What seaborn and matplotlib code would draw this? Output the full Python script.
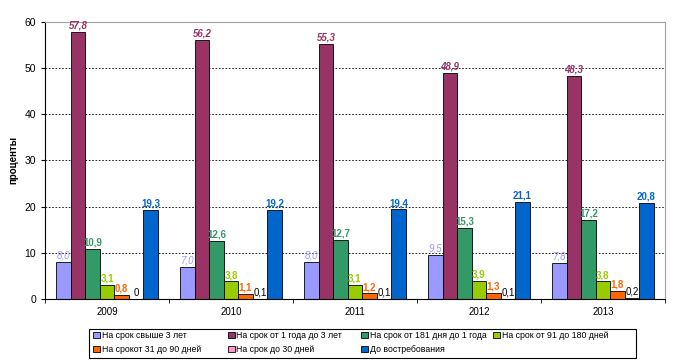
import pandas as pd
import matplotlib
matplotlib.use("Agg")
import matplotlib.pyplot as plt
from matplotlib.patches import Rectangle
import seaborn as sns

years = ['2009', '2010', '2011', '2012', '2013']
series_names = ['На срок свыше 3 лет', 'На срок от 1 года до 3 лет',
                'На срок от 181 дня до 1 года', 'На срок от 91 до 180 дней',
                'На срокот 31 до 90 дней', 'На срок до 30 дней',
                'До востребования']
over_3y = [8.0, 7.0, 8.0, 9.5, 7.8]
y1_to_3 = [57.8, 56.2, 55.3, 48.9, 48.3]
d181_to_1y = [10.9, 12.6, 12.7, 15.3, 17.2]
d91_to_180 = [3.1, 3.8, 3.1, 3.9, 3.8]
d31_to_90 = [0.8, 1.1, 1.2, 1.3, 1.8]
to_30 = [0, 0.1, 0.1, 0.1, 0.2]
on_demand = [19.3, 19.2, 19.4, 21.1, 20.8]

bar_colors = ['#9999FF', '#993366', '#339966', '#99CC00', '#FF6600',
              '#FF99CC', '#0066CC']
label_colors = ['#9999FF', '#993366', '#339966', '#99CC00', '#FF6600',
                '#000000', '#0066CC']

all_values = [over_3y, y1_to_3, d181_to_1y, d91_to_180, d31_to_90, to_30, on_demand]
rows = []
for name, vals in zip(series_names, all_values):
    for yr, v in zip(years, vals):
        rows.append({'year': yr, 'series': name, 'value': v})
df = pd.DataFrame(rows)

plt.rcParams['font.family'] = ['Liberation Sans', 'DejaVu Sans']
fig = plt.figure(figsize=(6.76, 3.64), dpi=100)
ax = fig.add_axes([0.0666, 0.1786, 0.917, 0.761])

sns.barplot(data=df, x='year', y='value', hue='series', hue_order=series_names,
            palette=bar_colors, saturation=1, width=0.82, edgecolor='black',
            linewidth=0.6, ax=ax, legend=True)

for i, cont in enumerate(ax.containers):
    vals = all_values[i]
    labels = ['0' if v == 0 else f"{v:.1f}".replace('.', ',') for v in vals]
    weight = 'normal' if i in (0, 5) else 'bold'
    ax.bar_label(cont, labels=labels, padding=1, fontsize=7,
                 color=label_colors[i], fontweight=weight,
                 fontstyle='italic' if i in (0, 1) else 'normal')

ax.set_ylim(0, 60)
ax.set_xlim(-0.5, 4.5)
ax.set_yticks(range(0, 61, 10))
ax.set_ylabel('проценты', fontsize=7, fontweight='bold')
ax.set_xlabel('')
ax.tick_params(axis='y', labelsize=7.5, length=3, direction='out')
ax.tick_params(axis='x', which='major', labelsize=7, length=0, pad=6)
ax.set_xticks([-0.5, 0.5, 1.5, 2.5, 3.5, 4.5], minor=True)
ax.tick_params(axis='x', which='minor', length=3, direction='out')
ax.yaxis.grid(True, color='black', linestyle=(0, (2, 2)), linewidth=0.6)
ax.set_axisbelow(True)
for side in ['top', 'right']:
    ax.spines[side].set_color('#A0A0A0')
for side in ['left', 'bottom']:
    ax.spines[side].set_color('black')
    ax.spines[side].set_linewidth(0.8)

handles, labels = ax.get_legend_handles_labels()
ax.get_legend().remove()

# Excel-style legend: equal-width columns, filled row by row
col_x = [91 / 676, 226 / 676, 359 / 676, 491 / 676]
for c, x0 in enumerate(col_x):
    idx = [k for k in (c, c + 4) if k < len(handles)]
    fig.legend([handles[k] for k in idx], [labels[k] for k in idx],
               loc='upper left', bbox_to_anchor=(x0, 1 - 329 / 364),
               borderaxespad=0, fontsize=6.3, frameon=False,
               handlelength=0.75, handleheight=0.75, handletextpad=0.2,
               borderpad=0.25, labelspacing=0.55)
fig.add_artist(Rectangle((89 / 676, 1 - 358 / 364), 547 / 676, 29 / 364,
                         transform=fig.transFigure, fill=False,
                         edgecolor='black', linewidth=0.8))

fig.savefig('out.png', dpi=100)
